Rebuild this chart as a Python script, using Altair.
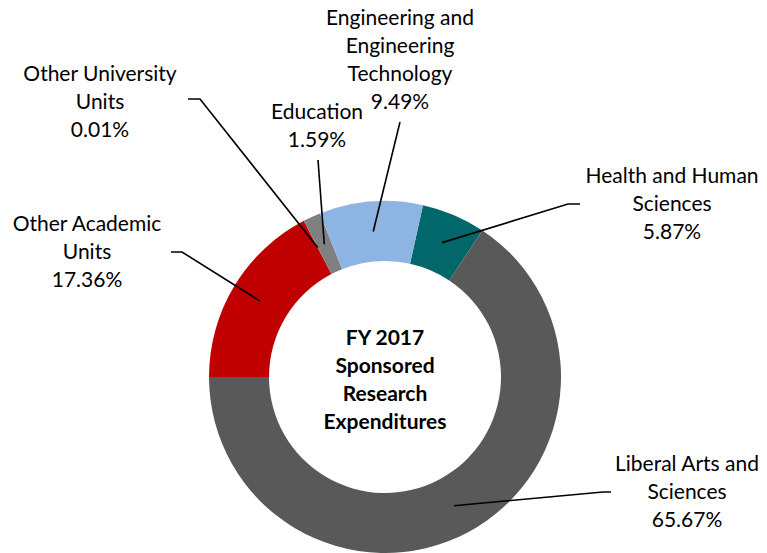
import math
import altair as alt
import pandas as pd

# ---- data (clockwise order starting just right of 12 o'clock) ----
units = ["Health and Human Sciences", "Liberal Arts and Sciences", "Other Academic Units",
         "Other University Units", "Education", "Engineering and Engineering Technology"]
shares = [5.87, 65.67, 17.36, 0.01, 1.59, 9.49]
colors = ["#02676A", "#595959", "#C00000", "#8EB4E3", "#808080", "#8EB4E3"]
label_lines = [
    ["Health and Human", "Sciences", "5.87%"],
    ["Liberal Arts and", "Sciences", "65.67%"],
    ["Other Academic", "Units", "17.36%"],
    ["Other University", "Units", "0.01%"],
    ["Education", "1.59%"],
    ["Engineering and", "Engineering", "Technology", "9.49%"],
]
center_title = ["FY 2017", "Sponsored", "Research", "Expenditures"]

# ---- layout (pixels relative to donut centre, y downward; y = first text line) ----
W, H = 751, 545
CX, CY = 377, 369           # donut centre inside the view
R_OUT, R_IN = 176, 116
START = math.radians(12.46)
label_pos = [(287, -200), (302, 88), (-298, -152), (-285, -302), (-68, -264), (15, -358)]
leader_knees = [
    [(183, -173), (195, -173)],
    [(218, 115), (226, 115)],
    [(-203, -125), (-214, -125)],
    [(-185, -278), (-197, -278)],
    [(-67, -217)],
    [(15, -255)],
]

total = sum(shares)
df = pd.DataFrame({"unit": units, "share": shares, "order": range(len(units))})

xs = alt.Scale(domain=[-CX, W - CX], range=[0, W])
ys = alt.Scale(domain=[-CY, H - CY], range=[0, H])

arc = alt.Chart(df).mark_arc(outerRadius=R_OUT, innerRadius=R_IN).encode(
    theta=alt.Theta("share:Q", stack=True,
                    scale=alt.Scale(range=[START, START + 2 * math.pi])),
    order=alt.Order("order:Q"),
    color=alt.Color("unit:N", scale=alt.Scale(domain=units, range=colors), legend=None),
    x=alt.X(datum=0, scale=xs, axis=None),
    y=alt.Y(datum=0, scale=ys, axis=None),
)

# leader lines from slice mid-point (mid ring radius) to label
rows = []
cum = 0.0
r_mid = (R_OUT + R_IN) / 2
for i, s in enumerate(shares):
    mid = START + 2 * math.pi * (cum + s / 2) / total
    cum += s
    pts = [(r_mid * math.sin(mid), -r_mid * math.cos(mid))] + leader_knees[i]
    for k, (px, py) in enumerate(pts):
        rows.append({"unit": units[i], "k": k, "x": px, "y": py})
lines_df = pd.DataFrame(rows)

leaders = alt.Chart(lines_df).mark_line(color="black", strokeWidth=1.6).encode(
    x=alt.X("x:Q", scale=xs, axis=None),
    y=alt.Y("y:Q", scale=ys, axis=None),
    detail="unit:N",
    order="k:Q",
)

lab_df = pd.DataFrame({
    "x": [p[0] for p in label_pos],
    "y": [p[1] for p in label_pos],
    "txt": ["\n".join(l) for l in label_lines],
})
labels = alt.Chart(lab_df).mark_text(
    font="Lato", fontSize=21, lineHeight=28, lineBreak="\n",
    align="center", baseline="middle", color="black"
).encode(
    x=alt.X("x:Q", scale=xs, axis=None),
    y=alt.Y("y:Q", scale=ys, axis=None),
    text="txt:N",
)

ctr_df = pd.DataFrame({"x": [0], "y": [-38], "txt": ["\n".join(center_title)]})
center = alt.Chart(ctr_df).mark_text(
    font="Lato", fontSize=21, fontWeight="bold", lineHeight=28, lineBreak="\n",
    align="center", baseline="middle", color="black"
).encode(
    x=alt.X("x:Q", scale=xs, axis=None),
    y=alt.Y("y:Q", scale=ys, axis=None),
    text="txt:N",
)

chart = alt.layer(arc, leaders, labels, center).properties(
    width=W, height=H, padding=0, autosize=alt.AutoSizeParams(type="none")
).configure_view(stroke=None)

chart.save("out.html", embed_options={"renderer": "svg", "actions": False})
